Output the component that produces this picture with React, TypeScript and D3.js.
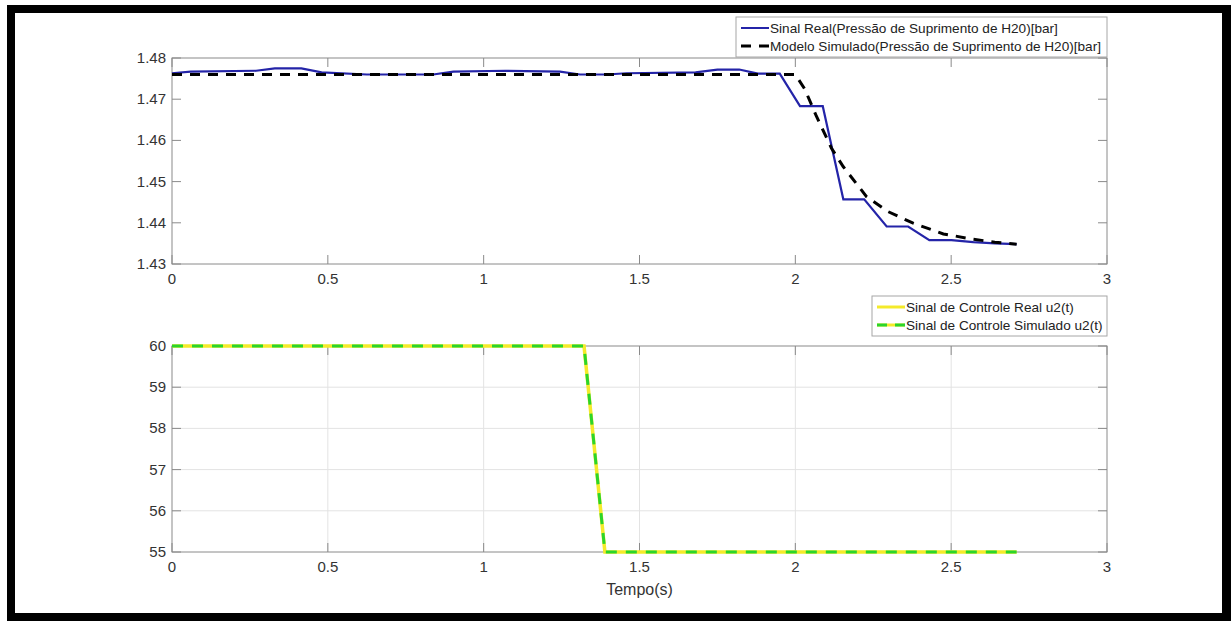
import * as d3 from "d3";
import { useEffect, useRef } from "react";

// top plot: supply pressure of H2O [bar]
const realTime = [0, 0.06, 0.27, 0.33, 0.415, 0.48, 0.625, 0.838, 0.903, 1.07, 1.245, 1.309, 1.395, 1.459, 1.68, 1.75, 1.82, 1.88, 1.95, 2.015, 2.088, 2.154, 2.221, 2.293, 2.362, 2.43, 2.501, 2.571, 2.64, 2.71];
const realPressure = [1.4763, 1.4767, 1.4769, 1.4775, 1.4775, 1.4765, 1.476, 1.476, 1.4767, 1.4769, 1.4767, 1.476, 1.476, 1.4763, 1.4765, 1.4772, 1.4772, 1.4762, 1.4762, 1.4683, 1.4683, 1.4457, 1.4457, 1.4391, 1.4391, 1.4358, 1.4358, 1.4353, 1.435, 1.4348];
const modelTime = [0, 1.95, 2.0, 2.03, 2.068, 2.116, 2.154, 2.229, 2.298, 2.378, 2.475, 2.571, 2.64, 2.71];
const modelPressure = [1.476, 1.476, 1.476, 1.4725, 1.4658, 1.4581, 1.4536, 1.4463, 1.4427, 1.4399, 1.4373, 1.436, 1.4353, 1.4348];

// bottom plot: control signal u2(t)
const controlTime = [0, 1.322, 1.389, 2.71];
const controlReal = [60, 60, 55, 55];
const controlSim = [60, 60, 55, 55];

const xTicks = [0, 0.5, 1, 1.5, 2, 2.5, 3];
const topTicks = [1.43, 1.44, 1.45, 1.46, 1.47, 1.48];
const bottomTicks = [55, 56, 57, 58, 59, 60];

const topLegend = ["Sinal Real(Pressão de Suprimento de H20)[bar]", "Modelo Simulado(Pressão de Suprimento de H20)[bar]"];
const bottomLegend = ["Sinal de Controle Real u2(t)", "Sinal de Controle Simulado u2(t)"];

const W = 1231;
const H = 621;
const FONT = "'Liberation Sans', Arial, sans-serif";

const App = () => {
    const ref = useRef<SVGSVGElement>(null);

    useEffect(() => {
        const svg = d3.select(ref.current);
        svg.selectAll("*").remove();

        // black picture frame
        svg.append("path")
            .attr("d", `M7,5H${W}V${H}H7Z M15,13V613H1222V13Z`)
            .attr("fill", "#000")
            .attr("fill-rule", "evenodd");

        const left = 172, right = 1107;
        const x = d3.scaleLinear().domain([0, 3]).range([left, right]);

        const drawAxes = (g, y, ticks, fmt, grid) => {
            const [y0, y1] = y.range();
            if (grid) {
                g.selectAll(".gx").data(xTicks.slice(1, -1)).enter().append("line")
                    .attr("x1", d => x(d)).attr("x2", d => x(d))
                    .attr("y1", y0).attr("y2", y1)
                    .attr("stroke", "#e3e3e3");
                g.selectAll(".gy").data(ticks.slice(1, -1)).enter().append("line")
                    .attr("x1", left).attr("x2", right)
                    .attr("y1", d => y(d)).attr("y2", d => y(d))
                    .attr("stroke", "#e3e3e3");
            }
            g.append("rect")
                .attr("x", left).attr("y", y1)
                .attr("width", right - left).attr("height", y0 - y1)
                .attr("fill", "none").attr("stroke", "#8a8a8a");
            // inward ticks on all four sides
            xTicks.forEach(t => {
                g.append("line").attr("x1", x(t)).attr("x2", x(t)).attr("y1", y0).attr("y2", y0 - 9).attr("stroke", "#8a8a8a");
                g.append("line").attr("x1", x(t)).attr("x2", x(t)).attr("y1", y1).attr("y2", y1 + 9).attr("stroke", "#8a8a8a");
            });
            ticks.forEach(t => {
                g.append("line").attr("x1", left).attr("x2", left + 9).attr("y1", y(t)).attr("y2", y(t)).attr("stroke", "#8a8a8a");
                g.append("line").attr("x1", right).attr("x2", right - 9).attr("y1", y(t)).attr("y2", y(t)).attr("stroke", "#8a8a8a");
            });
            g.selectAll(".xl").data(xTicks).enter().append("text")
                .attr("x", d => x(d)).attr("y", y0 + 20)
                .attr("text-anchor", "middle")
                .attr("font-family", FONT).attr("font-size", 15).attr("fill", "#333")
                .text(d => d3.format("~g")(d));
            g.selectAll(".yl").data(ticks).enter().append("text")
                .attr("x", left - 6).attr("y", d => y(d) + 5)
                .attr("text-anchor", "end")
                .attr("font-family", FONT).attr("font-size", 15).attr("fill", "#333")
                .text(d => fmt(d));
        };

        const drawLegend = (g, x0, y0, w, labels, styles) => {
            g.append("rect")
                .attr("x", x0).attr("y", y0).attr("width", w).attr("height", 40)
                .attr("fill", "#fff").attr("stroke", "#a6a6a6");
            labels.forEach((label, i) => {
                const ly = y0 + 11 + i * 18;
                const s = styles[i];
                s.forEach(st => {
                    g.append("line")
                        .attr("x1", x0 + 5).attr("x2", x0 + 33).attr("y1", ly).attr("y2", ly)
                        .attr("stroke", st.color).attr("stroke-width", st.width)
                        .attr("stroke-dasharray", st.dash || null);
                });
                g.append("text")
                    .attr("x", x0 + 34).attr("y", ly + 5)
                    .attr("font-family", FONT).attr("font-size", 13.6).attr("fill", "#222")
                    .text(label);
            });
        };

        // ---- top axes ----
        const yTop = d3.scaleLinear().domain([1.43, 1.48]).range([264, 58]);
        const gTop = svg.append("g");
        drawAxes(gTop, yTop, topTicks, d3.format(".2f"), false);

        const lineTop = d3.line().x(d => x(d[0])).y(d => yTop(d[1]));
        gTop.append("path")
            .datum(realTime.map((t, i) => [t, realPressure[i]]))
            .attr("d", lineTop)
            .attr("fill", "none").attr("stroke", "#2424a8").attr("stroke-width", 2.2);
        gTop.append("path")
            .datum(modelTime.map((t, i) => [t, modelPressure[i]]))
            .attr("d", lineTop)
            .attr("fill", "none").attr("stroke", "#000").attr("stroke-width", 3)
            .attr("stroke-dasharray", "10,8");

        drawLegend(svg.append("g"), 736, 17, right - 736, topLegend, [
            [{ color: "#2424a8", width: 2 }],
            [{ color: "#000", width: 3, dash: "10,8" }],
        ]);

        // ---- bottom axes ----
        const yBot = d3.scaleLinear().domain([55, 60]).range([552, 346]);
        const gBot = svg.append("g");
        drawAxes(gBot, yBot, bottomTicks, d3.format("d"), true);

        const lineBot = d3.line().x(d => x(d[0])).y(d => yBot(d[1]));
        gBot.append("path")
            .datum(controlTime.map((t, i) => [t, controlReal[i]]))
            .attr("d", lineBot)
            .attr("fill", "none").attr("stroke", "#f4ea2a").attr("stroke-width", 3.5);
        gBot.append("path")
            .datum(controlTime.map((t, i) => [t, controlSim[i]]))
            .attr("d", lineBot)
            .attr("fill", "none").attr("stroke", "#2bd52b").attr("stroke-width", 3)
            .attr("stroke-dasharray", "11,9");

        drawLegend(svg.append("g"), 872, 296, right - 872, bottomLegend, [
            [{ color: "#f4ea2a", width: 3 }],
            [{ color: "#f4ea2a", width: 3 }, { color: "#2bd52b", width: 3, dash: "10,8" }],
        ]);

        svg.append("text")
            .attr("x", (left + right) / 2).attr("y", 595)
            .attr("text-anchor", "middle")
            .attr("font-family", FONT).attr("font-size", 16).attr("fill", "#333")
            .text("Tempo(s)");
    }, []);

    return (
        <div style={{ position: "absolute", left: 0, top: 0 }}>
            <svg ref={ref} width={W} height={H} style={{ display: "block", background: "#fff" }} />
        </div>
    );
};

export default App;
